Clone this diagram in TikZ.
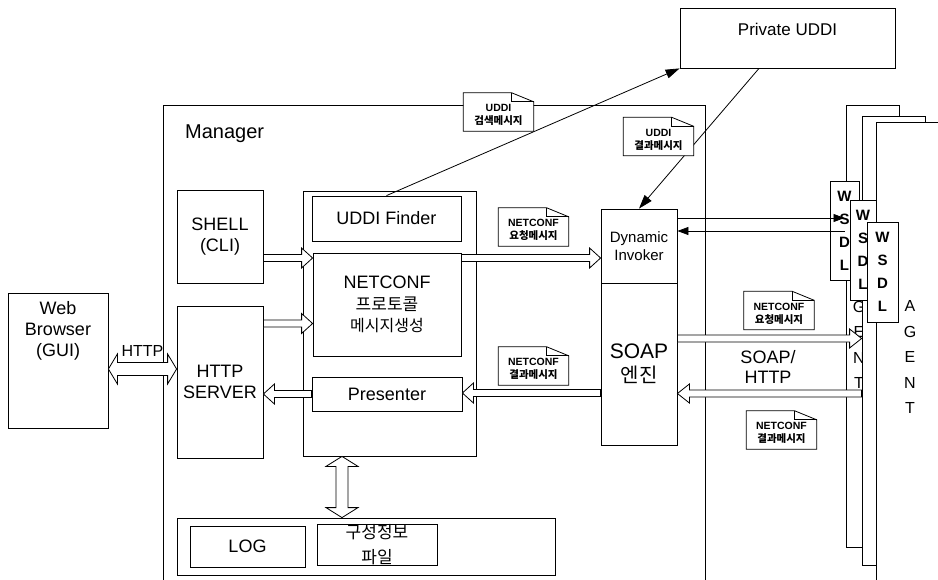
\documentclass[tikz,border=0pt]{standalone}
\usepackage{fontspec}
\setmainfont{Liberation Sans}
\newfontfamily\kr{Noto Sans CJK KR}
\usetikzlibrary{arrows.meta,calc}

\newcommand\fsz[2]{\fontsize{#1}{#2}\selectfont}

\tikzset{
  pen/.style={line width=0.8pt},
  box/.style={pen, draw, fill=white, inner sep=0pt, align=center, font=\fsz{18}{21.5}},
  fatshaft/.store in=\fatS, fathead/.store in=\fatH, fatlen/.store in=\fatL,
  fatshaft=3.5pt, fathead=10pt, fatlen=11pt,
  % hollow block arrow, one head
  fat/.style={pen, draw, fill=white, to path={
    let \p1=(\tikztostart), \p2=(\tikztotarget),
        \n1={atan2(\y2-\y1,\x2-\x1)}, \n2={veclen(\x2-\x1,\y2-\y1)} in
    ($(\p1)+(\n1+90:\fatS)$)
    -- ($(\p1)+(\n1:\n2-\fatL)+(\n1+90:\fatS)$)
    -- ($(\p1)+(\n1:\n2-\fatL)+(\n1+90:\fatH)$)
    -- (\p2)
    -- ($(\p1)+(\n1:\n2-\fatL)+(\n1-90:\fatH)$)
    -- ($(\p1)+(\n1:\n2-\fatL)+(\n1-90:\fatS)$)
    -- ($(\p1)+(\n1-90:\fatS)$) -- cycle}},
  % hollow block arrow, two heads
  fatboth/.style={pen, draw, fill=white, to path={
    let \p1=(\tikztostart), \p2=(\tikztotarget),
        \n1={atan2(\y2-\y1,\x2-\x1)}, \n2={veclen(\x2-\x1,\y2-\y1)} in
    (\p1)
    -- ($(\p1)+(\n1:\fatL)+(\n1+90:\fatH)$)
    -- ($(\p1)+(\n1:\fatL)+(\n1+90:\fatS)$)
    -- ($(\p1)+(\n1:\n2-\fatL)+(\n1+90:\fatS)$)
    -- ($(\p1)+(\n1:\n2-\fatL)+(\n1+90:\fatH)$)
    -- (\p2)
    -- ($(\p1)+(\n1:\n2-\fatL)+(\n1-90:\fatH)$)
    -- ($(\p1)+(\n1:\n2-\fatL)+(\n1-90:\fatS)$)
    -- ($(\p1)+(\n1:\fatL)+(\n1-90:\fatS)$)
    -- ($(\p1)+(\n1:\fatL)+(\n1-90:\fatH)$) -- cycle}},
  link/.style={pen, -{Triangle[length=14pt,width=9pt]}},
  wlink/.style={pen, -{Triangle[length=11pt,width=8pt]}},
  notebody/.style={minimum width=70pt, minimum height=38pt, inner sep=0pt},
  notetext/.style={align=center, inner sep=0pt, font=\bfseries\fsz{10.5}{13}},
  agentletters/.style={align=center, inner sep=0pt, font=\fsz{16}{25.5}},
  wsdlbox/.style={box, font=\bfseries\fsz{15}{23}},
}

% message sheet with a folded corner: name, centre, text
\newcommand\msgnote[3]{%
  \path (#2) node[notebody] (#1) {};
  \draw[pen, fill=white] (#1.south west) -- (#1.north west)
    -- ([xshift=-22pt]#1.north east) -- ([yshift=-9pt]#1.north east)
    -- (#1.south east) -- cycle;
  \draw[pen] ([xshift=-22pt]#1.north east) -- ([xshift=-22pt,yshift=-9pt]#1.north east)
    -- ([yshift=-9pt]#1.north east);
  \node[notetext] (#1-text) at ([yshift=-3pt]#1.center) {#3};}

\begin{document}
\begin{tikzpicture}[x=1pt,y=-1pt]
\useasboundingbox[fill=white] (0,0) rectangle (938,579);

% registry
\node[box, minimum width=215pt, minimum height=60pt,
      label={[anchor=north, inner sep=0pt, yshift=-15pt, font=\fsz{17}{20}]north:Private UDDI}]
      (uddi) at (787.5,38) {};

% manager frame
\node[pen, draw, minimum width=542pt, minimum height=495pt, inner sep=0pt] (manager) at (434,352.5) {};
\node[anchor=base west, inner sep=0pt, font=\fsz{20}{24}] (managername) at (185,138) {Manager};

\node[box, minimum width=86pt, minimum height=93pt] (shell) at (220,236.5) {SHELL\\(CLI)};
\node[box, minimum width=86pt, minimum height=152pt] (http) at (220,382) {HTTP\\SERVER};

\node[box, minimum width=173pt, minimum height=265pt] (mod) at (389.5,323.5) {};
\node[box, minimum width=149pt, minimum height=45pt] (finder) at (386.5,218.5) {UDDI Finder};
\node[box, minimum width=148pt, minimum height=103pt] (gen) at (387,304.5)
  {NETCONF\\{\kr\fsz{17}{21.5}프로토콜}\\{\kr\fsz{16}{21.5}메시지생성}};
\node[box, minimum width=150pt, minimum height=34pt] (pres) at (387,394) {Presenter};

\node[box, minimum width=76pt, minimum height=74pt, font=\fsz{15}{18}] (dyn) at (639,246) {Dynamic\\Invoker};
\node[box, minimum width=76pt, minimum height=162pt, font=\fsz{21}{24}] (soap) at (639,364) {SOAP\\{\kr\fsz{20}{24}엔진}};

\node[box, minimum width=378pt, minimum height=57pt] (store) at (366,546.5) {};
\node[box, minimum width=115pt, minimum height=41pt] (log) at (247.5,546.5) {LOG};
\node[box, minimum width=120pt, minimum height=41pt, font=\kr\fsz{17}{25}] (cfg) at (377,544.5) {구성정보\\파일};

% browser
\node[box, minimum width=100pt, minimum height=135pt,
      label={[anchor=north, inner sep=0pt, yshift=-9pt, align=center, font=\fsz{18}{21}]north:Web\\Browser\\(GUI)}]
      (web) at (58,360.5) {};

% agent stack
\node[box, minimum width=53pt, minimum height=442pt] (a1) at (872.5,326) {};
\node[agentletters] (a1-name) at (859,332) {A\\G\\E\\N\\T};
\node[box, minimum width=63pt, minimum height=449pt] (a2) at (893.5,340.5) {};
\node[box, minimum width=84pt, minimum height=478pt] (a3) at (918,361) {};
\node[agentletters] (a3-name) at (910,357) {A\\G\\E\\N\\T};

\node[wsdlbox, minimum width=29pt, minimum height=99pt] (w1) at (844.5,230.5) {W\\S\\D\\L};
\node[wsdlbox, minimum width=26pt, minimum height=100pt] (w2) at (863,250) {W\\S\\D\\L};
\node[wsdlbox, minimum width=31pt, minimum height=100pt] (w3) at (882.5,272) {W\\S\\D\\L};

% registry lookups
\draw[link] (finder.north) -- (uddi.south west);
\draw[link] ([xshift=-28.5pt]uddi.south) -- (dyn.north);

% invoker and service descriptions
\draw[wlink] (dyn.east |- 0,218) -- (w1.center |- 0,218);
\draw[wlink] (w1.center |- 0,231) -- (dyn.east |- 0,231);

% block arrows
\draw[fat] (shell.east |- 0,258) to (gen.west |- 0,258);
\draw[fat] (http.east |- 0,323.5) to (gen.west |- 0,323.5);
\draw[fat] (gen.east |- 0,258) to (dyn.west |- 0,258);
\draw[fat] (pres.west) to (http.east |- pres.west);
\draw[fat] (soap.west |- 0,393) to (pres.east |- 0,393);
\draw[fat, fathead=9.5pt, fatlen=12pt] (soap.east |- 0,338.5) to (a2.west |- 0,338.5);
\draw[fat, fathead=9.5pt, fatlen=12pt] (a2.west |- 0,393.5) to (soap.east |- 0,393.5);
\draw[fatboth, fatshaft=6.5pt, fathead=15pt, fatlen=9pt] (web.east |- 0,369) to (http.west |- 0,369);
\draw[fatboth, fatshaft=6pt, fathead=16pt, fatlen=10pt] (342,0 |- mod.south) to (342,0 |- store.north);

\node[inner sep=0pt, font=\fsz{16}{19}] (httpname) at (142.5,351) {HTTP};
\node[inner sep=0pt, align=center, font=\fsz{18}{20}] (soapname) at (768,367) {SOAP/\\HTTP};

% messages
\msgnote{qsearch}{498.5,112}{UDDI\\{\kr 검색메시지}}
\msgnote{qresult}{658.5,136.5}{UDDI\\{\kr 결과메시지}}
\msgnote{reqin}{533.5,227}{NETCONF\\{\kr 요청메시지}}
\msgnote{resin}{533.5,366}{NETCONF\\{\kr 결과메시지}}
\msgnote{reqout}{779,310.5}{NETCONF\\{\kr 요청메시지}}
\msgnote{resout}{781.5,430}{NETCONF\\{\kr 결과메시지}}
\end{tikzpicture}
\end{document}
